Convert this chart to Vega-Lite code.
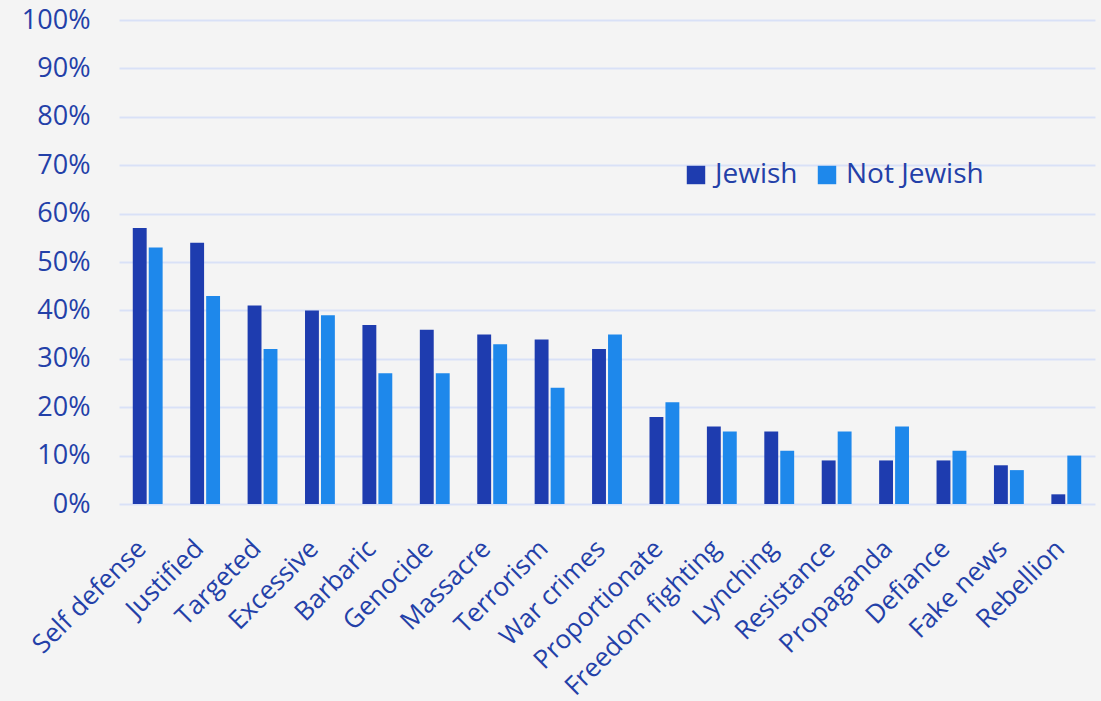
{
  "$schema": "https://vega.github.io/schema/vega-lite/v6.json",
  "autosize": {"type": "none"},
  "width": 976,
  "height": 484,
  "padding": {"left": 119, "top": 20, "right": 6, "bottom": 197},
  "background": "#f4f4f4",
  "config": {
    "view": {"stroke": null},
    "font": "Open Sans",
    "axis": {"labelColor": "#2340a8", "labelFont": "Open Sans"},
    "legend": {"labelColor": "#2340a8", "labelFont": "Open Sans"}
  },
  "data": {
    "values": [
      {"term": "Self defense", "group": "Jewish", "pct": 57},
      {"term": "Self defense", "group": "Not Jewish", "pct": 53},
      {"term": "Justified", "group": "Jewish", "pct": 54},
      {"term": "Justified", "group": "Not Jewish", "pct": 43},
      {"term": "Targeted", "group": "Jewish", "pct": 41},
      {"term": "Targeted", "group": "Not Jewish", "pct": 32},
      {"term": "Excessive", "group": "Jewish", "pct": 40},
      {"term": "Excessive", "group": "Not Jewish", "pct": 39},
      {"term": "Barbaric", "group": "Jewish", "pct": 37},
      {"term": "Barbaric", "group": "Not Jewish", "pct": 27},
      {"term": "Genocide", "group": "Jewish", "pct": 36},
      {"term": "Genocide", "group": "Not Jewish", "pct": 27},
      {"term": "Massacre", "group": "Jewish", "pct": 35},
      {"term": "Massacre", "group": "Not Jewish", "pct": 33},
      {"term": "Terrorism", "group": "Jewish", "pct": 34},
      {"term": "Terrorism", "group": "Not Jewish", "pct": 24},
      {"term": "War crimes", "group": "Jewish", "pct": 32},
      {"term": "War crimes", "group": "Not Jewish", "pct": 35},
      {"term": "Proportionate", "group": "Jewish", "pct": 18},
      {"term": "Proportionate", "group": "Not Jewish", "pct": 21},
      {"term": "Freedom fighting", "group": "Jewish", "pct": 16},
      {"term": "Freedom fighting", "group": "Not Jewish", "pct": 15},
      {"term": "Lynching", "group": "Jewish", "pct": 15},
      {"term": "Lynching", "group": "Not Jewish", "pct": 11},
      {"term": "Resistance", "group": "Jewish", "pct": 9},
      {"term": "Resistance", "group": "Not Jewish", "pct": 15},
      {"term": "Propaganda", "group": "Jewish", "pct": 9},
      {"term": "Propaganda", "group": "Not Jewish", "pct": 16},
      {"term": "Defiance", "group": "Jewish", "pct": 9},
      {"term": "Defiance", "group": "Not Jewish", "pct": 11},
      {"term": "Fake news", "group": "Jewish", "pct": 8},
      {"term": "Fake news", "group": "Not Jewish", "pct": 7},
      {"term": "Rebellion", "group": "Jewish", "pct": 2},
      {"term": "Rebellion", "group": "Not Jewish", "pct": 10}
    ]
  },
  "mark": {"type": "bar"},
  "encoding": {
    "x": {
      "field": "term",
      "type": "nominal",
      "sort": null,
      "title": null,
      "scale": {"paddingInner": 0.48, "paddingOuter": 0.24},
      "axis": {
        "labelAngle": -45,
        "labelFontSize": 26,
        "labelPadding": 31,
        "labelOffset": -15,
        "labelLimit": 0,
        "ticks": false,
        "domain": false,
        "labelOverlap": false
      }
    },
    "xOffset": {
      "field": "group",
      "type": "nominal",
      "scale": {"paddingInner": 0.13}
    },
    "y": {
      "field": "pct",
      "type": "quantitative",
      "title": null,
      "scale": {"domain": [0, 100]},
      "axis": {
        "values": [0, 10, 20, 30, 40, 50, 60, 70, 80, 90, 100],
        "labelExpr": "datum.value + '%'",
        "labelFontSize": 27,
        "labelPadding": 29,
        "ticks": false,
        "domain": false,
        "gridColor": "#d9e1f7",
        "gridWidth": 2
      }
    },
    "color": {
      "field": "group",
      "type": "nominal",
      "title": null,
      "scale": {"domain": ["Jewish", "Not Jewish"], "range": ["#1e3caf", "#1e88eb"]},
      "legend": {
        "orient": "none",
        "legendX": 563,
        "legendY": 141,
        "direction": "horizontal",
        "symbolType": "square",
        "symbolSize": 340,
        "symbolStrokeWidth": 0,
        "labelFontSize": 28,
        "columnPadding": 15,
        "labelOffset": 5
      }
    }
  }
}
